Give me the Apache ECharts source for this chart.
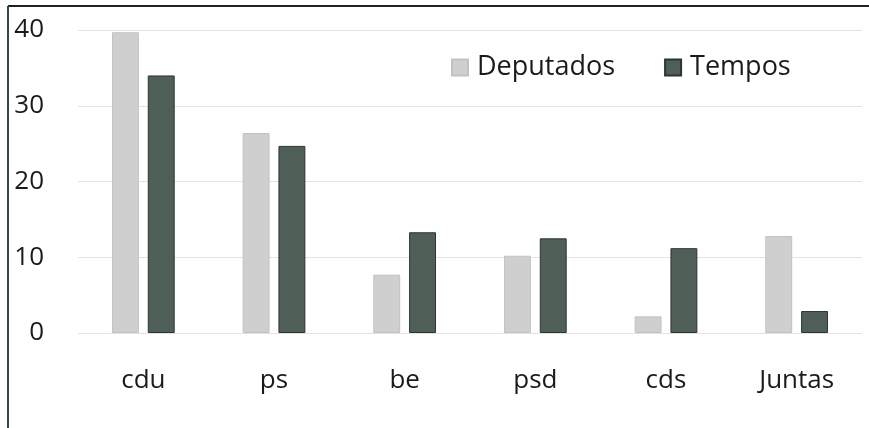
<!DOCTYPE html>
<html>
<head>
<meta charset="utf-8">
<script src="https://cdn.jsdelivr.net/npm/echarts@6/dist/echarts.min.js"></script>
<style>
  html, body { margin: 0; padding: 0; background: #fff; }
  #chart { width: 869px; height: 428px; }
</style>
</head>
<body>
<div id="chart"></div>
<script>
// categorias e valores
const categories = ['cdu', 'ps', 'be', 'psd', 'cds', 'Juntas'];
const deputados = [39.7, 26.4, 7.7, 10.2, 2.2, 12.8];
const tempos = [34.0, 24.7, 13.3, 12.5, 11.2, 2.9];
const yTicks = [0, 10, 20, 30, 40];

const font = '"Open Sans", "Liberation Sans", sans-serif';

const chart = echarts.init(document.getElementById('chart'));

const option = {
  backgroundColor: '#fff',
  animation: false,
  textStyle: { fontFamily: font },
  grid: { left: 78, right: 7, top: 30, bottom: 95 },
  legend: {
    data: ['Deputados', 'Tempos'],
    left: 446,
    top: 49,
    itemWidth: 16,
    itemHeight: 16,
    itemGap: 49,
    icon: 'rect',
    textStyle: { fontSize: 27, color: '#1a1a1a', fontFamily: font, padding: [0, 0, 0, 4] }
  },
  xAxis: {
    type: 'category',
    data: categories,
    axisLine: { show: false },
    axisTick: { show: false },
    axisLabel: { fontSize: 26, color: '#1a1a1a', margin: 35 }
  },
  yAxis: {
    type: 'value',
    min: yTicks[0],
    max: yTicks[yTicks.length - 1],
    interval: 10,
    axisLine: { show: false },
    axisTick: { show: false },
    axisLabel: { fontSize: 26, color: '#1a1a1a', margin: 34 },
    splitLine: { lineStyle: { color: '#e2e2e2', width: 1 } }
  },
  series: [
    {
      name: 'Deputados',
      type: 'bar',
      data: deputados,
      barGap: '33%',
      barCategoryGap: '52%',
      itemStyle: { color: '#cfcfcf', borderColor: '#c2c2c2', borderWidth: 1 }
    },
    {
      name: 'Tempos',
      type: 'bar',
      data: tempos,
      itemStyle: { color: '#4f5f58', borderColor: '#2c3531', borderWidth: 1 }
    }
  ],
  graphic: [
    { type: 'line', shape: { x1: 8, y1: 6, x2: 869, y2: 6 }, style: { stroke: '#222', lineWidth: 2 } },
    { type: 'line', shape: { x1: 8, y1: 6, x2: 8, y2: 428 }, style: { stroke: '#2f4a40', lineWidth: 2 } }
  ]
};

chart.setOption(option);
</script>
</body>
</html>
